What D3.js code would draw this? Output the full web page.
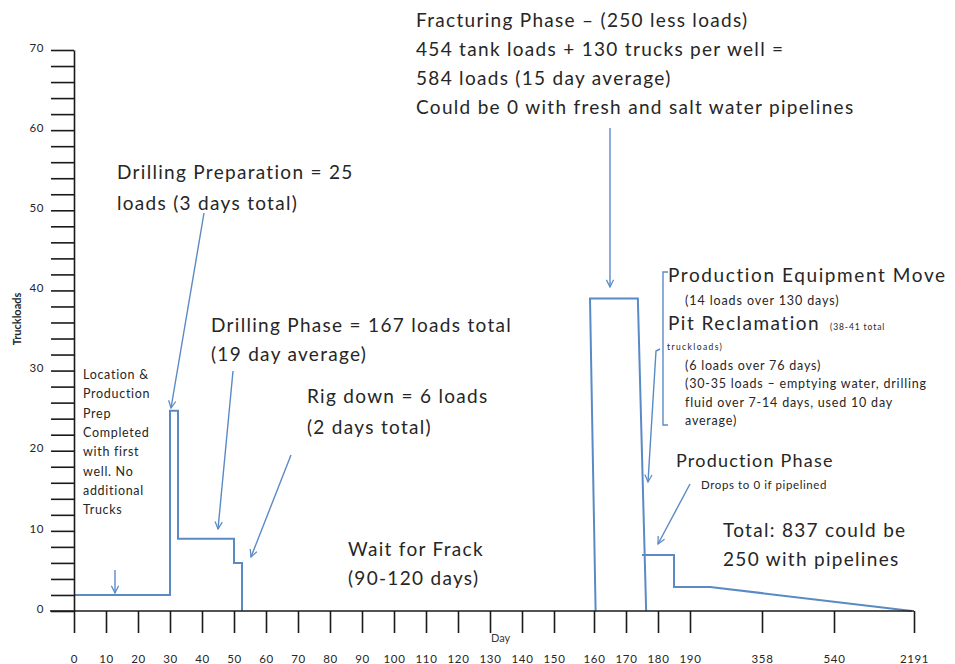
<!DOCTYPE html>
<html>
<head>
<meta charset="utf-8">
<script src="https://cdn.jsdelivr.net/npm/d3@7"></script>
<style>
  body { margin: 0; background: #fff; }
  svg text { font-family: Lato, "Open Sans", sans-serif; fill: #262626; }
  .axis text { font-size: 11.5px; letter-spacing: 0.6px; }
  .axis path, .axis line { stroke: #1a1a1a; stroke-width: 1.6; }
</style>
</head>
<body>
<script>
var width = 955,
    height = 664;

// x axis categories (days) - the picture spaces them unevenly
var dayTicks = [0, 10, 20, 30, 40, 50, 60, 70, 80, 90, 100, 110, 120, 130, 140, 150,
                160, 170, 180, 190, 358, 540, 2191];
var loadTicks = d3.range(0, 71, 2);

// truckloads per day
var prepDays   = [0, 30, 30, 32.5, 32.5, 50, 50, 52.5, 52.5];
var prepLoads  = [2, 2, 25, 25, 9, 9, 6, 6, 0];
var frackDays  = [160.5, 159, 173.7, 176.3];
var frackLoads = [0, 39, 39, 0];
var prodDays   = [175, 185, 185, 237, 2150];
var prodLoads  = [7, 7, 3, 3, 0];

var svg = d3.select("body").append("svg")
    .attr("width", width)
    .attr("height", height);

// piecewise scale, the axis is squeezed past day 150
var x = d3.scaleLinear()
    .domain([0, 150, 160, 190, 358, 540, 2191])
    .range([74, 554, 594, 690, 762, 834, 914]);

var y = d3.scaleLinear()
    .domain([0, 70])
    .range([611, 50]);

var blue = "#5a8ac6";

svg.append("defs").append("marker")
    .attr("id", "arrow")
    .attr("viewBox", "0 0 10 10")
    .attr("refX", 9).attr("refY", 5)
    .attr("markerWidth", 9).attr("markerHeight", 9)
    .attr("markerUnits", "userSpaceOnUse")
    .attr("orient", "auto")
  .append("path")
    .attr("d", "M1,1 L9,5 L1,9")
    .attr("fill", "none")
    .attr("stroke", blue)
    .attr("stroke-width", 1.4);

var line = d3.line()
    .x(function(d) { return x(d[0]); })
    .y(function(d) { return y(d[1]); });

[[prepDays, prepLoads], [frackDays, frackLoads], [prodDays, prodLoads]].forEach(function(s) {
  svg.append("path")
    .datum(d3.zip(s[0], s[1]))
    .attr("d", line)
    .attr("fill", "none")
    .attr("stroke", blue)
    .attr("stroke-width", 2);
});

// axes
var xAxis = svg.append("g")
    .attr("class", "axis")
    .attr("transform", "translate(0," + y(0) + ")")
    .call(d3.axisBottom(x).tickValues(dayTicks).tickSize(22).tickSizeOuter(0).tickPadding(22)
      .tickFormat(d3.format("d")));
xAxis.select(".domain").attr("d", "M50,0H914");

svg.append("g")
    .attr("class", "axis")
    .attr("transform", "translate(" + x(0) + ",0)")
    .call(d3.axisLeft(y).tickValues(loadTicks).tickSize(23).tickSizeOuter(0).tickPadding(7)
      .tickFormat(function(d) { return d % 10 === 0 ? d : ""; }))
  .selectAll("text")
    .attr("dy", "0.1em");

svg.append("text")
    .attr("transform", "translate(21,319) rotate(-90)")
    .attr("text-anchor", "middle")
    .style("font-size", "11px")
    .style("font-weight", "bold")
    .text("Truckloads");

svg.append("text")
    .attr("x", 491).attr("y", 642)
    .style("font-size", "11px")
    .style("fill", "#3a3a3a")
    .text("Day");

// annotations
var notes = [
  {x: 416, y: 27, size: 19, ls: 1.3, lh: 29, lines: ["Fracturing Phase – (250 less loads)",
      "454 tank loads + 130 trucks per well =", "584 loads (15 day average)",
      "Could be 0 with fresh and salt water pipelines"]},
  {x: 117, y: 179, size: 19, ls: 1.3, lh: 31, lines: ["Drilling Preparation = 25", "loads (3 days total)"]},
  {x: 211, y: 332, size: 19, ls: 1.3, lh: 29, lines: ["Drilling Phase = 167 loads total", "(19 day average)"]},
  {x: 307, y: 403, size: 19, ls: 1.3, lh: 31, lines: ["Rig down = 6 loads", "(2 days total)"]},
  {x: 348, y: 556, size: 19, ls: 1.3, lh: 29, lines: ["Wait for Frack", "(90-120 days)"]},
  {x: 83, y: 379, size: 12.5, ls: 0.7, lh: 19.3, lines: ["Location &", "Production", "Prep", "Completed",
      "with first", "well. No", "additional", "Trucks"]},
  {x: 668, y: 282, size: 19, ls: 1.6, lh: 0, lines: ["Production Equipment Move"]},
  {x: 685, y: 305, size: 12.5, ls: 0.9, lh: 0, lines: ["(14 loads over 130 days)"]},
  {x: 668, y: 330, size: 19, ls: 1.5, lh: 0, lines: ["Pit Reclamation"]},
  {x: 830, y: 330, size: 8.5, ls: 0.9, lh: 0, lines: ["(38-41 total"]},
  {x: 667, y: 350, size: 8.5, ls: 1.4, lh: 0, lines: ["truckloads)"]},
  {x: 685, y: 370, size: 12.5, ls: 0.8, lh: 18.3, lines: ["(6 loads over 76 days)",
      "(30-35 loads – emptying water, drilling", "fluid over 7-14 days, used 10 day", "average)"]},
  {x: 676, y: 467, size: 18, ls: 1.2, lh: 0, lines: ["Production Phase"]},
  {x: 701, y: 489, size: 11.5, ls: 0.6, lh: 0, lines: ["Drops to 0 if pipelined"]},
  {x: 723, y: 537, size: 19, ls: 1.3, lh: 29, lines: ["Total: 837 could be", "250 with pipelines"]}
];

notes.forEach(function(n) {
  svg.append("g").selectAll("text")
    .data(n.lines)
    .enter().append("text")
      .attr("x", n.x)
      .attr("y", function(d, i) { return n.y + i * n.lh; })
      .style("font-size", n.size + "px")
      .style("letter-spacing", n.ls + "px")
      .text(function(d) { return d; });
});

// arrows from the notes to the line
var arrows = [
  [[610, 128], [610, 287]],
  [[204, 213], [171, 408]],
  [[233, 371], [218, 529]],
  [[291, 455], [251, 557]],
  [[115, 570], [115, 593]],
  [[690, 484], [658, 544]],
  [[660, 349], [656, 351], [648, 482]]
];

arrows.forEach(function(a) {
  svg.append("path")
    .attr("d", d3.line()(a))
    .attr("fill", "none")
    .attr("stroke", blue)
    .attr("stroke-width", 1.4)
    .attr("marker-end", "url(#arrow)");
});

// bracket next to the production / pit notes
svg.append("path")
    .attr("d", "M668,272 H663 V425 H668")
    .attr("fill", "none")
    .attr("stroke", blue)
    .attr("stroke-width", 1.4);
</script>
</body>
</html>
